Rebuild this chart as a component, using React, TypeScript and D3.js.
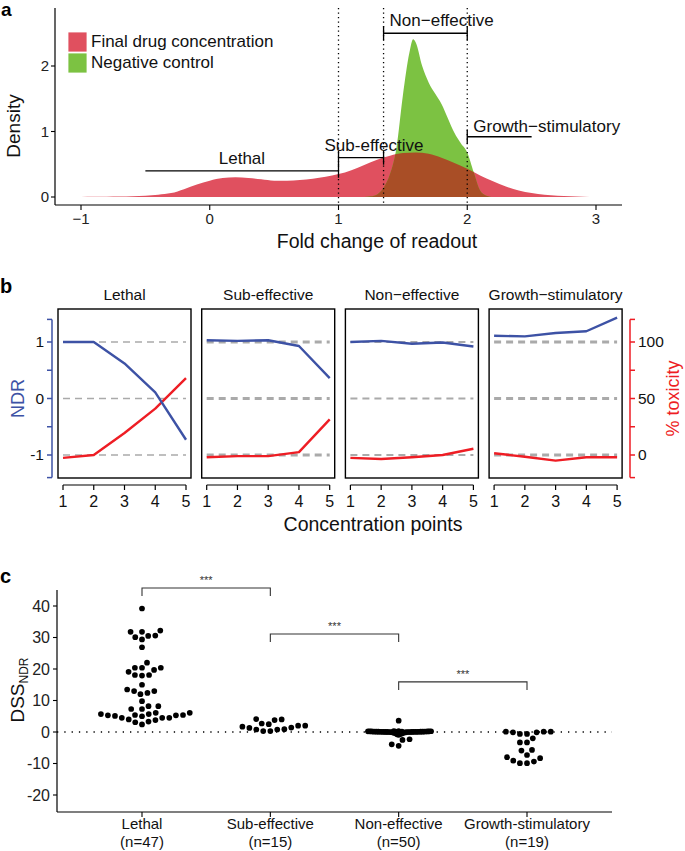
import React from "react";
import * as d3 from "d3";

const FONT = "'Liberation Sans', Arial, Helvetica, sans-serif";

// ---------- Panel a data ----------
const redX = [-1.0, -0.9, -0.8, -0.7, -0.6, -0.5, -0.4, -0.3, -0.2, -0.1, 0.0, 0.1, 0.2, 0.3, 0.4, 0.5, 0.6, 0.7, 0.8, 0.9, 1.0, 1.1, 1.2, 1.3, 1.4, 1.5, 1.6, 1.7, 1.8, 1.9, 2.0, 2.1, 2.2, 2.3, 2.4, 2.5, 2.6, 2.7, 2.8, 2.9, 3.0];
const redDensity = [0.0, 0.002, 0.004, 0.007, 0.011, 0.02, 0.035, 0.06, 0.12, 0.19, 0.25, 0.29, 0.3, 0.29, 0.27, 0.25, 0.25, 0.26, 0.28, 0.31, 0.35, 0.41, 0.49, 0.57, 0.63, 0.67, 0.68, 0.66, 0.6, 0.52, 0.43, 0.33, 0.24, 0.16, 0.1, 0.06, 0.035, 0.02, 0.01, 0.004, 0.0];
const greenX = [1.2, 1.25, 1.3, 1.35, 1.4, 1.45, 1.5, 1.55, 1.58, 1.6, 1.65, 1.7, 1.75, 1.8, 1.85, 1.9, 1.95, 2.0, 2.05, 2.1, 2.15, 2.2];
const greenDensity = [0.0, 0.01, 0.04, 0.14, 0.35, 0.75, 1.55, 2.2, 2.41, 2.36, 2.0, 1.75, 1.58, 1.42, 1.2, 0.98, 0.82, 0.68, 0.38, 0.1, 0.02, 0.0];
const xTicksA = [-1, 0, 1, 2, 3];
const yTicksA = [0, 1, 2];
const thresholdsA = [1, 1.35, 2];
const bracketNames = ["Lethal", "Sub-effective", "Non\u2212effective", "Growth\u2212stimulatory"];
const bracketFrom = [-0.5, 1, 1.35, 2];
const bracketTo = [1, 1.35, 2, 2.5];
const bracketLevel = [0.4, 0.6, 2.5, 0.92];
const legendNames = ["Final drug concentration", "Negative control"];

// ---------- Panel b data ----------
const facetTitles = ["Lethal", "Sub-effective", "Non\u2212effective", "Growth\u2212stimulatory"];
const concPoints = [1, 2, 3, 4, 5];
const ndrLethal = [1.0, 1.0, 0.62, 0.11, -0.73];
const ndrSub = [1.03, 1.02, 1.03, 0.93, 0.36];
const ndrNon = [1.0, 1.02, 0.97, 0.99, 0.92];
const ndrGrowth = [1.11, 1.1, 1.16, 1.19, 1.43];
const toxLethal = [-2.5, 0, 19.5, 41, 68];
const toxSub = [-2, -1, -1, 2.5, 31.5];
const toxNon = [-2.5, -3.5, -2, 0, 5.5];
const toxGrowth = [1.5, -1.5, -5, -2, -2];
const ndrTicks = [-1, 0, 1];
const toxTicks = [0, 50, 100];
const refLines = [-1, 0, 1];

// ---------- Panel c data ----------
const groupNames = ["Lethal", "Sub-effective", "Non-effective", "Growth-stimulatory"];
const groupN = ["(n=47)", "(n=15)", "(n=50)", "(n=19)"];
const dssLethal = [39.2, 31.8, 32.2, 31.8, 30.5, 29.4, 30.1, 30.6, 26.9, 22.0, 19.1, 20.4, 20.4, 20.4, 19.7, 18.1, 17.9, 18.1, 15.0, 13.0, 12.4, 12.0, 13.0, 13.5, 9.8, 8.2, 8.2,
  7.3, 7.3, 6.1, 6.1, 5.7, 5.7, 5.4, 5.4, 5.3, 5.3, 5.1, 5.0,
  4.5, 4.5, 4.5, 4.0, 3.8, 3.3, 3.1, 2.4];
const dssSub = [2.0, 1.3, 0.9, 0.8, 4.0, 2.7, 0.3, 2.5, 0.3, 3.8, 0.8, 4.1, 1.4, 1.7, 2.0];
const dssNon = [3.6, -2.3, -2.5, -3.9, -4.4,
  -0.9, -0.75, -0.6, -0.5, -0.4, -0.3, -0.25, -0.2, -0.15, -0.1, -0.08, -0.05, -0.03, -0.02, 0, 0, 0, 0.01, 0.02, 0.03, 0.04, 0.05, 0.05,
  0.06, 0.07, 0.08, 0.08, 0.09, 0.1, 0.1, 0.11, 0.12, 0.12, 0.13, 0.14, 0.15, 0.16, 0.17, 0.18, 0.2, 0.21, 0.22, 0.24, 0.26, 0.3];
const dssGrowth = [0.1, 0.1, 0.1, -0.1, -0.1, -0.6, -0.6, -2.0, -3.3, -3.3, -5.9, -5.7, -7.3, -8.3, -8.0, -9.4, -9.1, -9.9, -9.9];
const yTicksC = [-20, -10, 0, 10, 20, 30, 40];
const sigPairs = [[0, 1], [1, 2], [2, 3]];
const sigLevels = [45.7, 31.1, 15.9];

// ---------- colours ----------
const RED_A = "#e0505f";
const GREEN_A = "#7cc242";
const BROWN_A = "#a94e26";
const BLUE_B = "#3d52a5";
const RED_B = "#ee1d24";
const GRAY = "#aaaaaa";

function swarm(values: number[], y: (v: number) => number, rc: (v: number) => number) {
  const idx = values.map((_, i) => i).sort((a, b) => values[a] - values[b]);
  const placed: { x: number; y: number; r: number }[] = [];
  const out: { x: number; y: number }[] = new Array(values.length);
  for (const i of idx) {
    const py = y(values[i]);
    const r = rc(values[i]);
    const cands = [0];
    for (const p of placed) {
      const d = r + p.r;
      const dy = Math.abs(p.y - py);
      if (dy < d) {
        const dx = Math.sqrt(d * d - dy * dy);
        cands.push(p.x + dx, p.x - dx);
      }
    }
    cands.sort((a, b) => Math.abs(a) - Math.abs(b) || a - b);
    let chosen = 0;
    for (const c of cands) {
      const ok = placed.every((p) => {
        const d = r + p.r;
        return (p.x - c) ** 2 + (p.y - py) ** 2 >= d * d - 1e-6;
      });
      if (ok) { chosen = c; break; }
    }
    placed.push({ x: chosen, y: py, r });
    out[i] = { x: chosen, y: py };
  }
  return out;
}

const fmtMinus = (t: number) => (t < 0 ? "\u2212" + Math.abs(t) : String(t));

function PanelA() {
  const x = d3.scaleLinear().domain([-1, 3]).range([81, 596]);
  const y = d3.scaleLinear().domain([0, 2]).range([197, 66]);
  const redArea = d3.area<number>().x((_, i) => x(redX[i])).y0(y(0)).y1((d) => y(d)).curve(d3.curveMonotoneX)(redDensity) || "";
  const greenArea = d3.area<number>().x((_, i) => x(greenX[i])).y0(y(0)).y1((d) => y(d)).curve(d3.curveMonotoneX)(greenDensity) || "";
  const top = 8, bottom = 205, left = 55, right = 622;
  return (
    <g>
      <text x={1} y={16} fontSize={19} fontWeight="bold">a</text>
      <defs>
        <clipPath id="greenClip"><path d={greenArea} /></clipPath>
      </defs>
      <path d={redArea} fill={RED_A} />
      <path d={greenArea} fill={GREEN_A} />
      <path d={redArea} fill={BROWN_A} clipPath="url(#greenClip)" />
      {thresholdsA.map((t, i) => (
        <line key={i} x1={x(t)} x2={x(t)} y1={top} y2={bottom} stroke="#000" strokeWidth={1.3} strokeDasharray="1.3 3.2" />
      ))}
      <line x1={left} x2={left} y1={top} y2={bottom} stroke="#000" strokeWidth={1.2} />
      <line x1={left} x2={right} y1={bottom} y2={bottom} stroke="#000" strokeWidth={1.2} />
      {yTicksA.map((t) => (
        <g key={t}>
          <line x1={left - 4} x2={left} y1={y(t)} y2={y(t)} stroke="#000" strokeWidth={1.1} />
          <text x={left - 6} y={y(t) + 5} fontSize={15} textAnchor="end" fill="#222">{t}</text>
        </g>
      ))}
      {xTicksA.map((t) => (
        <g key={t}>
          <line x1={x(t)} x2={x(t)} y1={bottom} y2={bottom + 5} stroke="#000" strokeWidth={1.1} />
          <text x={x(t)} y={224} fontSize={15} textAnchor="middle" fill="#222">{fmtMinus(t)}</text>
        </g>
      ))}
      <text transform="translate(20,126) rotate(-90)" fontSize={19} textAnchor="middle" fill="#111">Density</text>
      <text x={377} y={248} fontSize={19.5} textAnchor="middle" fill="#111">Fold change of readout</text>
      {bracketNames.map((name, i) => {
        const x1 = x(bracketFrom[i]), x2 = x(bracketTo[i]), yy = y(bracketLevel[i]);
        const ticks: number[] = i === 0 ? [x2] : i === 3 ? [x1] : [x1, x2];
        const tx = i === 0 ? (x1 + x2) / 2 : i === 1 ? 374 : x1 + 6;
        const anchor = i <= 1 ? "middle" : "start";
        const dy = i === 3 ? 5 : 7;
        return (
          <g key={name}>
            <line x1={x1} x2={x2} y1={yy} y2={yy} stroke="#000" strokeWidth={1.3} />
            {ticks.map((tk, j) => (
              <line key={j} x1={tk} x2={tk} y1={yy - 7} y2={yy + 7} stroke="#000" strokeWidth={1.3} />
            ))}
            <text x={tx} y={yy - dy} fontSize={17} textAnchor={anchor} fill="#111">{name}</text>
          </g>
        );
      })}
      {legendNames.map((n, i) => (
        <g key={n}>
          <rect x={68} y={32 + i * 21} width={19} height={20} fill={i === 0 ? RED_A : GREEN_A} stroke="#fff" strokeWidth={0.8} />
          <text x={91} y={47 + i * 21} fontSize={17} fill="#111">{n}</text>
        </g>
      ))}
    </g>
  );
}

function PanelB() {
  const ndrData = [ndrLethal, ndrSub, ndrNon, ndrGrowth];
  const toxData = [toxLethal, toxSub, toxNon, toxGrowth];
  const dashW = [1.3, 2.8, 1.8, 2.8];
  const y = d3.scaleLinear().domain([-1, 1]).range([455, 342]);
  const tox = d3.scaleLinear().domain([0, 100]).range([455, 342]);
  const boxTop = 309, boxBottom = 478, boxW = 133;
  const axisTicksNdr = [-1.4, -1, -0.5, 0, 0.5, 1, 1.4];
  const axisTicksTox = [-20, 0, 25, 50, 75, 100, 120];
  return (
    <g>
      <text x={0} y={293} fontSize={20} fontWeight="bold">b</text>
      {facetTitles.map((title, i) => {
        const left = 58 + i * 143.7;
        const x = d3.scaleLinear().domain([1, 5]).range([left + 5, left + 128]);
        const ndrLine = d3.line<number>().x((_, k) => x(concPoints[k])).y((d) => y(d))(ndrData[i]) || "";
        const toxLine = d3.line<number>().x((_, k) => x(concPoints[k])).y((d) => tox(d))(toxData[i]) || "";
        return (
          <g key={title}>
            <text x={left + boxW / 2} y={300} fontSize={15.5} textAnchor="middle" fill="#111">{title}</text>
            {refLines.map((r) => (
              <line key={r} x1={x(1)} x2={x(5)} y1={y(r)} y2={y(r)} stroke={GRAY} strokeWidth={dashW[i]} strokeDasharray="7 5" />
            ))}
            <path d={toxLine} fill="none" stroke={RED_B} strokeWidth={2.4} strokeLinejoin="round" />
            <path d={ndrLine} fill="none" stroke={BLUE_B} strokeWidth={2.4} strokeLinejoin="round" />
            <rect x={left} y={boxTop} width={boxW} height={boxBottom - boxTop} fill="none" stroke="#000" strokeWidth={1.4} />
            <line x1={x(1)} x2={x(5)} y1={485} y2={485} stroke="#000" strokeWidth={1.2} />
            {concPoints.map((c) => (
              <g key={c}>
                <line x1={x(c)} x2={x(c)} y1={485} y2={490} stroke="#000" strokeWidth={1.2} />
                <text x={x(c)} y={507} fontSize={16} textAnchor="middle" fill="#111">{c}</text>
              </g>
            ))}
          </g>
        );
      })}
      <line x1={52} x2={52} y1={y(1.4)} y2={y(-1.4)} stroke={BLUE_B} strokeWidth={1.5} />
      {axisTicksNdr.map((t) => (
        <line key={t} x1={47} x2={52} y1={y(t)} y2={y(t)} stroke={BLUE_B} strokeWidth={1.5} />
      ))}
      {ndrTicks.map((t) => (
        <text key={t} x={44} y={y(t) + 5} fontSize={15.5} textAnchor="end" fill="#111">{t}</text>
      ))}
      <text transform={`translate(24,${y(0)}) rotate(-90)`} fontSize={18} textAnchor="middle" fill={BLUE_B}>NDR</text>
      <line x1={630} x2={630} y1={tox(120)} y2={tox(-20)} stroke={RED_B} strokeWidth={1.5} />
      {axisTicksTox.map((t) => (
        <line key={t} x1={630} x2={635} y1={tox(t)} y2={tox(t)} stroke={RED_B} strokeWidth={1.5} />
      ))}
      {toxTicks.map((t) => (
        <text key={t} x={638} y={tox(t) + 5} fontSize={15.5} textAnchor="start" fill="#111">{t}</text>
      ))}
      <text transform={`translate(679,${tox(50)}) rotate(-90)`} fontSize={18} textAnchor="middle" fill={RED_B}>% toxicity</text>
      <text x={373} y={531} fontSize={19.5} textAnchor="middle" fill="#111">Concentration points</text>
    </g>
  );
}

function PanelC() {
  const groups = [dssLethal, dssSub, dssNon, dssGrowth];
  const x = d3.scalePoint<string>().domain(groupNames).range([142, 527]);
  const y = d3.scaleLinear().domain([0, 40]).range([732, 606]);
  const left = 57, right = 612, top = 590, bottom = 812;
  const R = 2.85;
  return (
    <g>
      <text x={0} y={583} fontSize={20} fontWeight="bold">c</text>
      <line x1={left} x2={right} y1={y(0)} y2={y(0)} stroke="#000" strokeWidth={1.3} strokeDasharray="1.3 6" />
      {groups.map((vals, gi) => {
        const rc = (v: number) => (gi === 2 && Math.abs(v) < 1 ? 0.87 : 3.55);
        const pos = swarm(vals, (v) => y(v), rc);
        const cx = x(groupNames[gi]) as number;
        return (
          <g key={gi}>
            {pos.map((p, k) => (
              <circle key={k} cx={cx + p.x} cy={p.y} r={R} fill="#000" />
            ))}
          </g>
        );
      })}
      {sigPairs.map(([a, b], i) => {
        const x1 = x(groupNames[a]) as number, x2 = x(groupNames[b]) as number;
        const yy = y(sigLevels[i]);
        return (
          <g key={i}>
            <path d={`M${x1},${yy + 8}V${yy}H${x2}V${yy + 8}`} fill="none" stroke="#333" strokeWidth={1.1} />
            <text x={(x1 + x2) / 2} y={yy - 4} fontSize={11} textAnchor="middle" fill="#333">***</text>
          </g>
        );
      })}
      <line x1={left} x2={left} y1={top} y2={bottom} stroke="#000" strokeWidth={1.2} />
      <line x1={left} x2={right} y1={bottom} y2={bottom} stroke="#000" strokeWidth={1.2} />
      {yTicksC.map((t) => (
        <g key={t}>
          <line x1={left - 4} x2={left} y1={y(t)} y2={y(t)} stroke="#000" strokeWidth={1.1} />
          <text x={left - 7} y={y(t) + 5.5} fontSize={16} textAnchor="end" fill="#222">{t}</text>
        </g>
      ))}
      {groupNames.map((g, i) => (
        <g key={g}>
          <line x1={x(g) as number} x2={x(g) as number} y1={bottom} y2={bottom + 5} stroke="#000" strokeWidth={1.1} />
          <text x={x(g) as number} y={829} fontSize={15} textAnchor="middle" fill="#111">{g}</text>
          <text x={x(g) as number} y={847} fontSize={15} textAnchor="middle" fill="#111">{groupN[i]}</text>
        </g>
      ))}
      <text transform="translate(24,690) rotate(-90)" fontSize={19} textAnchor="middle" fill="#111">
        DSS<tspan fontSize={12} dy={4}>NDR</tspan>
      </text>
    </g>
  );
}

export default function App() {
  return (
    <svg width={685} height={851} style={{ position: "absolute", left: 0, top: 0, background: "#fff" }} fontFamily={FONT}>
      <rect width={685} height={851} fill="#fff" />
      <PanelA />
      <PanelB />
      <PanelC />
    </svg>
  );
}
